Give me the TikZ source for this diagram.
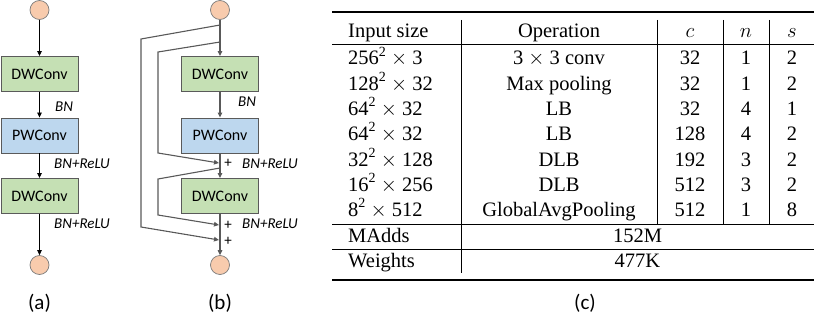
\documentclass[tikz,border=0pt]{standalone}
\usepackage{fontspec}
\setmainfont{Liberation Serif}
\newfontfamily\carl{Carlito}
\usetikzlibrary{arrows.meta}
\definecolor{dwgreen}{HTML}{C5E0B4}
\definecolor{pwblue}{HTML}{BDD7EE}
\definecolor{circfill}{HTML}{F8CBAD}
\definecolor{boxline}{HTML}{5A5A5A}
\newcommand{\sqr}{\raisebox{0.42em}{\fontsize{14}{14}\selectfont 2}}
\tikzset{
  blk/.style={draw=boxline, line width=0.9pt, minimum width=77pt, minimum height=35pt, inner sep=0pt, font=\carl\fontsize{16}{18}\selectfont},
  dwbox/.style={blk, fill=dwgreen},
  pwbox/.style={blk, fill=pwblue},
  circ/.style={circle, draw=boxline!80, line width=0.7pt, fill=circfill, minimum size=19pt, inner sep=0pt},
  arra/.style={draw=black, line width=0.8pt, -{Triangle[length=5pt,width=4.5pt]}},
  arrb/.style={draw=black!65, line width=1.1pt, -{Triangle[length=5pt,width=4.5pt]}},
  skipb/.style={draw=black!65, line width=1.1pt},
  lbl/.style={font=\carl\itshape\fontsize{15}{17}\selectfont, inner sep=0pt, anchor=west},
  plus/.style={font=\carl\fontsize{15}{17}\selectfont, inner sep=0pt},
  sub/.style={font=\carl\fontsize{21}{24}\selectfont, inner sep=0pt},
  tt/.style={font=\fontsize{20.5}{24}\selectfont, inner sep=0pt, anchor=base},
  ttl/.style={tt, anchor=base west},
}
\begin{document}
\begin{tikzpicture}[x=1pt,y=-1pt]
\path[use as bounding box] (0,0) rectangle (830,329);
% ---------- (a)
\node[circ] (a0) at (39.5,10) {};
\node[dwbox] (a1) at (39.5,74) {DWConv};
\node[pwbox] (a2) at (39.5,135.5) {PWConv};
\node[dwbox] (a3) at (39.5,196) {DWConv};
\node[circ] (a4) at (39.5,265) {};
\draw[arra] (a0) -- (a1);
\draw[arra] (a1) -- (a2);
\draw[arra] (a2) -- (a3);
\draw[arra] (a3) -- (a4);
\node[lbl] (la1) at (55,107) {BN};
\node[lbl] (la2) at (54,163.5) {BN+ReLU};
\node[lbl] (la3) at (54,223.5) {BN+ReLU};
\node[sub] (capa) at (39.5,303) {(a)};
% ---------- (b)
\node[circ] (b0) at (220,10) {};
\node[dwbox] (b1) at (220,74) {DWConv};
\node[pwbox] (b2) at (220,135.5) {PWConv};
\node[dwbox] (b3) at (220,196) {DWConv};
\node[circ] (b4) at (220,265) {};
\draw[arrb] (b0) -- (b1);
\draw[arrb] (b1) -- (b2);
\draw[arrb] (b2) -- (b3);
\draw[arrb] (b3) -- (b4);
\coordinate (s1) at (220,25);
\coordinate (s2) at (220,42);
\coordinate (s3) at (220,168);
\coordinate (j1) at (219,163);
\coordinate (j2) at (219,225);
\coordinate (j3) at (219,240);
\draw[skipb, -{Triangle[length=5pt,width=4.5pt]}] (s1) -- (141,39) -- (141,227) -- (j3);
\draw[skipb, -{Triangle[length=5pt,width=4.5pt]}] (s2) -- (158,52) -- (158,153) -- (j1);
\draw[skipb, -{Triangle[length=5pt,width=4.5pt]}] (s3) -- (158,179) -- (158,215) -- (j2);
\node[plus] (p1) at (228,163) {+};
\node[plus] (p2) at (228,225) {+};
\node[plus] (p3) at (228,241) {+};
\node[lbl] (lb1) at (238,102) {BN};
\node[lbl] (lb2) at (242,163.5) {BN+ReLU};
\node[lbl] (lb3) at (242,223.5) {BN+ReLU};
\node[sub] (capb) at (220,303) {(b)};
% ---------- (c) table
\draw[line width=2pt] (332,11.7) -- (814,11.7);
\draw[line width=0.8pt] (332,44) -- (814,44);
\draw[line width=0.8pt] (332,224) -- (814,224);
\draw[line width=0.8pt] (332,249.3) -- (814,249.3);
\draw[line width=2pt] (332,280) -- (814,280);
\draw[line width=0.8pt] (461,20) -- (461,273);
\draw[line width=0.8pt] (657,20) -- (657,224);
\draw[line width=0.8pt] (723,20) -- (723,224);
\draw[line width=0.8pt] (769,20) -- (769,224);
% header
\node[ttl] (h1) at (348,38) {Input size};
\node[tt] (h2) at (559,38) {Operation};
\node[tt] (h3) at (690,38) {$c$};
\node[tt] (h4) at (746,38) {$n$};
\node[tt] (h5) at (792,38) {$s$};
% rows
\node[ttl] (r1a) at (348,65) {256\sqr{} $\times$ 3};
\node[tt] (r1b) at (559,65) {3 $\times$ 3 conv};
\node[tt] (r1c) at (690,65) {32};
\node[tt] (r1d) at (746,65) {1};
\node[tt] (r1e) at (792,65) {2};
\node[ttl] (r2a) at (348,90) {128\sqr{} $\times$ 32};
\node[tt] (r2b) at (559,90) {Max pooling};
\node[tt] (r2c) at (690,90) {32};
\node[tt] (r2d) at (746,90) {1};
\node[tt] (r2e) at (792,90) {2};
\node[ttl] (r3a) at (348,115) {64\sqr{} $\times$ 32};
\node[tt] (r3b) at (559,115) {LB};
\node[tt] (r3c) at (690,115) {32};
\node[tt] (r3d) at (746,115) {4};
\node[tt] (r3e) at (792,115) {1};
\node[ttl] (r4a) at (348,140) {64\sqr{} $\times$ 32};
\node[tt] (r4b) at (559,140) {LB};
\node[tt] (r4c) at (690,140) {128};
\node[tt] (r4d) at (746,140) {4};
\node[tt] (r4e) at (792,140) {2};
\node[ttl] (r5a) at (348,166) {32\sqr{} $\times$ 128};
\node[tt] (r5b) at (559,166) {DLB};
\node[tt] (r5c) at (690,166) {192};
\node[tt] (r5d) at (746,166) {3};
\node[tt] (r5e) at (792,166) {2};
\node[ttl] (r6a) at (348,191) {16\sqr{} $\times$ 256};
\node[tt] (r6b) at (559,191) {DLB};
\node[tt] (r6c) at (690,191) {512};
\node[tt] (r6d) at (746,191) {3};
\node[tt] (r6e) at (792,191) {2};
\node[ttl] (r7a) at (348,216) {8\sqr{} $\times$ 512};
\node[tt] (r7b) at (559,216) {GlobalAvgPooling};
\node[tt] (r7c) at (690,216) {512};
\node[tt] (r7d) at (746,216) {1};
\node[tt] (r7e) at (792,216) {8};
\node[ttl] (m1) at (348,242) {MAdds};
\node[tt] (m2) at (637.5,242) {152M};
\node[ttl] (w1) at (348,267) {Weights};
\node[tt] (w2) at (637.5,267) {477K};
\node[sub] (capc) at (585,303) {(c)};
\end{tikzpicture}
\end{document}
